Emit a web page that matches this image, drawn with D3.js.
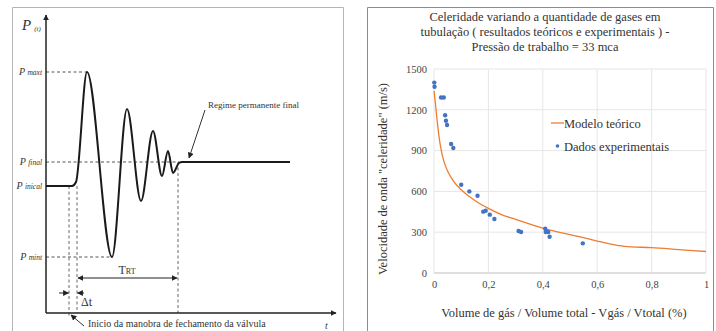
<!DOCTYPE html>
<html>
<head>
<meta charset="utf-8">
<script src="https://cdn.jsdelivr.net/npm/d3@7"></script>
<style>
	body { margin: 0; background: #fff; }
</style>
</head>
<body>
<svg id="chart" width="716" height="331"></svg>
<script>
// ---- left panel data (schematic, arbitrary units) ----
const waveTime = [0, 26, 30, 41, 66, 81, 95, 107, 116, 122, 127, 133, 136, 244];
const wavePressure = [127, 127, 131, 241, 56, 204, 112, 182, 137, 162, 140, 150, 151, 151];
const levelNames = ['maxt', 'final', 'inical', 'mint'];
const levelValues = [241, 151, 127, 56];
const levelStops = [41, 133, 0, 66];
const guideTimes = [23, 31, 132];
const guideTops = [127, 127, 151];

// ---- right panel data ----
const gasFraction = [0.001, 0.002, 0.026, 0.036, 0.041, 0.044, 0.048, 0.063, 0.071, 0.10, 0.13, 0.16, 0.181, 0.19, 0.205, 0.222, 0.311, 0.32, 0.409, 0.411, 0.42, 0.425, 0.547];
const celerity = [1400, 1370, 1290, 1290, 1160, 1120, 1088, 948, 919, 649, 600, 568, 451, 458, 429, 397, 309, 301, 326, 301, 301, 267, 218];
const modelFraction = [0, 0.005, 0.01, 0.02, 0.03, 0.035, 0.05, 0.07, 0.1, 0.13, 0.16, 0.2, 0.25, 0.3, 0.35, 0.4, 0.45, 0.5, 0.55, 0.6, 0.65, 0.7, 0.8, 0.9, 1.0];
const modelCelerity = [1340, 1250, 1150, 980, 870, 830, 750, 680, 612, 562, 520, 475, 428, 395, 362, 330, 305, 283, 260, 235, 212, 196, 186, 172, 158];
const xTicks = [0, 0.2, 0.4, 0.6, 0.8, 1];
const xTickLabels = ['0', '0,2', '0,4', '0,6', '0,8', '1'];
const yTicks = [0, 300, 600, 900, 1200, 1500];
const titleLines = [
	'Celeridade variando a quantidade de gases em',
	'tubulação ( resultados teóricos e experimentais ) -',
	'Pressão de trabalho = 33 mca'
];

const SERIF = '"Liberation Serif", "Times New Roman", Tinos, serif';

const $svg = d3.select('#chart');

// arrow heads
const $defs = $svg.append('defs');
$defs.append('marker')
	.attr('id', 'head')
	.attr('viewBox', '0 0 10 10')
	.attr('refX', 9).attr('refY', 5)
	.attr('markerWidth', 6).attr('markerHeight', 6)
	.attr('markerUnits', 'userSpaceOnUse')
	.attr('orient', 'auto-start-reverse')
	.append('path')
	.attr('d', 'M0,0 L10,5 L0,10 Z')
	.attr('fill', '#222');

/* ---------------- left panel ---------------- */
const $left = $svg.append('g').attr('class', 'left');

$left.append('path')
	.attr('d', 'M12.5,340 V7.5 H343.5 V340')
	.attr('fill', 'none')
	.attr('stroke', '#b5b5b5');

const scaleT = d3.scaleLinear().domain([0, 290]).range([46, 336]);
const scaleP = d3.scaleLinear().domain([0, 300]).range([313, 13]);

const dash = '3,2.5';

// dashed level guides
levelValues.forEach((v, i) => {
	if (!levelStops[i]) return;
	$left.append('line')
		.attr('x1', scaleT(0)).attr('x2', scaleT(levelStops[i]))
		.attr('y1', scaleP(v)).attr('y2', scaleP(v))
		.attr('stroke', '#555').attr('stroke-dasharray', dash);
});

// vertical guides
guideTimes.forEach((t, i) => {
	$left.append('line')
		.attr('x1', scaleT(t)).attr('x2', scaleT(t))
		.attr('y1', scaleP(guideTops[i])).attr('y2', scaleP(i === 0 ? -4 : 0))
		.attr('stroke', '#666').attr('stroke-dasharray', dash);
});

// axes
$left.append('line')
	.attr('x1', scaleT(0)).attr('x2', scaleT(0))
	.attr('y1', scaleP(0)).attr('y2', scaleP(298))
	.attr('stroke', '#222').attr('stroke-width', 1.5)
	.attr('marker-end', 'url(#head)');
$left.append('line')
	.attr('x1', scaleT(0)).attr('x2', scaleT(290))
	.attr('y1', scaleP(0)).attr('y2', scaleP(0))
	.attr('stroke', '#222').attr('stroke-width', 1.5)
	.attr('marker-end', 'url(#head)');

// pressure wave
const wave = d3.line()
	.x(d => scaleT(d[0]))
	.y(d => scaleP(d[1]))
	.curve(d3.curveMonotoneX);

$left.append('path')
	.datum(d3.zip(waveTime, wavePressure))
	.attr('d', wave)
	.attr('fill', 'none')
	.attr('stroke', '#1a1a1a')
	.attr('stroke-width', 2);

// level labels
levelNames.forEach((name, i) => {
	const $t = $left.append('text')
		.attr('x', scaleT(0) - 4)
		.attr('y', scaleP(levelValues[i]) + 3)
		.attr('text-anchor', 'end')
		.attr('font-style', 'italic')
		.attr('fill', '#333');
	$t.append('tspan').attr('font-size', 10).text('P ');
	$t.append('tspan').attr('font-size', 7.5).text(name);
});

// P(t) and t labels
const $pt = $left.append('text')
	.attr('x', 22).attr('y', 30)
	.attr('font-style', 'italic').attr('fill', '#333');
$pt.append('tspan').attr('font-size', 15).text('P');
$pt.append('tspan').attr('font-size', 7).attr('dx', 3).attr('dy', 1).text('(t)');

$left.append('text')
	.attr('x', 325).attr('y', 329)
	.attr('font-size', 10).attr('font-style', 'italic').attr('fill', '#444')
	.text('t');

// T_RT arrow
$left.append('line')
	.attr('x1', scaleT(31) + 1).attr('x2', scaleT(132) - 1)
	.attr('y1', scaleP(35)).attr('y2', scaleP(35))
	.attr('stroke', '#222').attr('stroke-width', 1.2)
	.attr('marker-start', 'url(#head)')
	.attr('marker-end', 'url(#head)');
const $trt = $left.append('text')
	.attr('x', scaleT(81)).attr('y', scaleP(39))
	.attr('text-anchor', 'middle').attr('fill', '#333');
$trt.append('tspan').attr('font-size', 12).text('T');
$trt.append('tspan').attr('font-size', 8).text('RT');

// delta t arrows
$left.append('line')
	.attr('x1', scaleT(13)).attr('x2', scaleT(22.5))
	.attr('y1', scaleP(20)).attr('y2', scaleP(20))
	.attr('stroke', '#222').attr('marker-end', 'url(#head)');
$left.append('line')
	.attr('x1', scaleT(38)).attr('x2', scaleT(31.5))
	.attr('y1', scaleP(20)).attr('y2', scaleP(20))
	.attr('stroke', '#222').attr('marker-end', 'url(#head)');
$left.append('text')
	.attr('x', scaleT(35)).attr('y', scaleP(7))
	.attr('font-size', 12).attr('fill', '#333')
	.text('Δt');

// annotations
$left.append('line')
	.attr('x1', 205).attr('y1', 110)
	.attr('x2', 189).attr('y2', 158)
	.attr('stroke', '#333').attr('marker-end', 'url(#head)');
$left.append('text')
	.attr('x', 208).attr('y', 108)
	.attr('font-size', 9).attr('fill', '#333')
	.text('Regime permanente final');

$left.append('line')
	.attr('x1', 84).attr('y1', 326)
	.attr('x2', 71).attr('y2', 315)
	.attr('stroke', '#333').attr('marker-end', 'url(#head)');
$left.append('text')
	.attr('x', 88).attr('y', 327)
	.attr('font-size', 10).attr('fill', '#333')
	.text('Inicio da manobra de fechamento da válvula');

/* ---------------- right panel ---------------- */
const $right = $svg.append('g').attr('class', 'right');

$right.append('path')
	.attr('d', 'M367.5,340 V7.5 H713.5 V340')
	.attr('fill', 'none')
	.attr('stroke', '#8c8c8c');

const scaleX = d3.scaleLinear().domain([0, 1]).range([434, 706]);
const scaleY = d3.scaleLinear().domain([0, 1500]).range([273, 69]);

// title
$right.append('text')
	.attr('text-anchor', 'middle')
	.attr('font-size', 12.5)
	.attr('fill', '#333')
	.selectAll('tspan')
	.data(titleLines)
	.join('tspan')
	.attr('x', 545)
	.attr('y', (d, i) => 21 + i * 15)
	.text(d => d);

// grid
$right.append('g')
	.selectAll('line')
	.data(yTicks)
	.join('line')
	.attr('x1', scaleX(0)).attr('x2', scaleX(1))
	.attr('y1', d => scaleY(d)).attr('y2', d => scaleY(d))
	.attr('stroke', d => d === 0 ? '#bfbfbf' : '#e6e6e6');
$right.append('g')
	.selectAll('line')
	.data(xTicks)
	.join('line')
	.attr('x1', d => scaleX(d)).attr('x2', d => scaleX(d))
	.attr('y1', scaleY(0)).attr('y2', scaleY(1500))
	.attr('stroke', '#e6e6e6');

// axes
const axisY = d3.axisLeft(scaleY)
	.tickValues(yTicks).tickSize(0).tickPadding(7)
	.tickFormat(d3.format('d'));
const $axisY = $right.append('g')
	.attr('transform', `translate(${scaleX(0)},0)`)
	.call(axisY);
const axisX = d3.axisBottom(scaleX)
	.tickValues(xTicks).tickSize(0).tickPadding(8)
	.tickFormat((d, i) => xTickLabels[i]);
const $axisX = $right.append('g')
	.attr('transform', `translate(0,${scaleY(0)})`)
	.call(axisX);
[$axisX, $axisY].forEach($a => {
	$a.attr('font-size', 10.5);
	$a.select('.domain').remove();
	$a.selectAll('text').attr('fill', '#444');
});

// axis titles
$right.append('text')
	.attr('x', 564).attr('y', 317)
	.attr('text-anchor', 'middle')
	.attr('font-size', 12.5).attr('fill', '#333')
	.text('Volume de gás / Volume total - Vgás / Vtotal (%)');
$right.append('text')
	.attr('transform', 'translate(387,179) rotate(-90)')
	.attr('text-anchor', 'middle')
	.attr('font-size', 12.5).attr('fill', '#333')
	.text('Velocidade de onda "celeridade" (m/s)');

// model curve
const model = d3.line()
	.x(d => scaleX(d[0]))
	.y(d => scaleY(d[1]))
	.curve(d3.curveMonotoneX);
$right.append('path')
	.datum(d3.zip(modelFraction, modelCelerity))
	.attr('d', model)
	.attr('fill', 'none')
	.attr('stroke', '#ed7d31')
	.attr('stroke-width', 1.3);

// experimental points
$right.append('g')
	.selectAll('circle')
	.data(d3.zip(gasFraction, celerity))
	.join('circle')
	.attr('cx', d => scaleX(d[0]))
	.attr('cy', d => scaleY(d[1]))
	.attr('r', 2.2)
	.attr('fill', '#4472c4');

// legend
const $legend = $right.append('g').attr('transform', 'translate(551,123)');
$legend.append('line')
	.attr('x1', 0).attr('x2', 13)
	.attr('stroke', '#ed7d31').attr('stroke-width', 1.3);
$legend.append('text')
	.attr('x', 13).attr('y', 4.5)
	.attr('font-size', 12.5).attr('fill', '#333')
	.text('Modelo teórico');
$legend.append('circle')
	.attr('cx', 6.5).attr('cy', 23)
	.attr('r', 1.8).attr('fill', '#4472c4');
$legend.append('text')
	.attr('x', 13).attr('y', 27.5)
	.attr('font-size', 12.5).attr('fill', '#333')
	.text('Dados experimentais');

// inline font on every text node so nothing else overrides it
$svg.selectAll('text, tspan').style('font-family', SERIF);
</script>
</body>
</html>
